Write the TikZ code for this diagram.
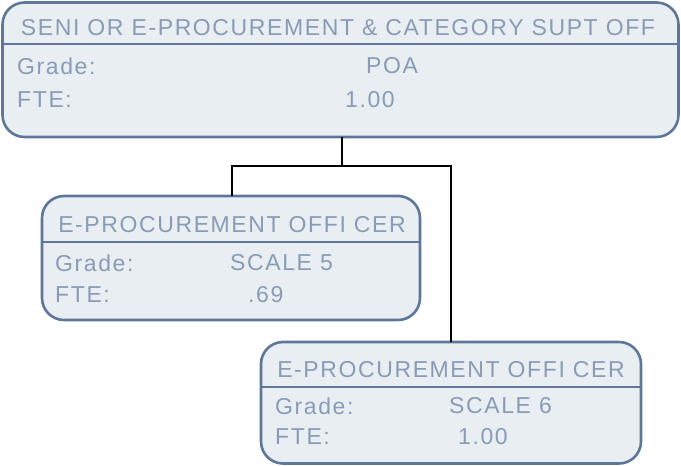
\documentclass[tikz,border=0pt]{standalone}
\usepackage{fontspec}
\setmainfont{Liberation Sans}[LetterSpace=7]
\definecolor{boxfill}{HTML}{E9EEF2}
\definecolor{boxline}{HTML}{5D7699}
\definecolor{boxtext}{HTML}{8A9BB5}
\begin{document}
\begin{tikzpicture}[x=1pt,y=-1pt,
  card/.style={draw=boxline, fill=boxfill, line width=2.6pt, rounded corners=22pt},
  divider/.style={draw=boxline, line width=2.6pt},
  ttl/.style={text=boxtext, font=\fontsize{23}{26}\selectfont, inner sep=0pt, anchor=center},
  lbl/.style={text=boxtext, font=\fontsize{23}{26}\selectfont, inner sep=0pt, anchor=west},
  link/.style={draw=black, line width=2.4pt}]
\useasboundingbox (0,0) rectangle (681,466);
% top box
\draw[card] (2.5,2.5) rectangle (678.5,137);
\draw[divider] (2.5,44) -- (678.5,44);
\node[ttl] (t1) at (338,28) {SENI OR E-PROCUREMENT \& CATEGORY SUPT OFF};
\node[lbl] (g1) at (17,66) {Grade:};
\node[lbl] (gv1) at (366,66) {POA};
\node[lbl] (f1) at (17,100) {FTE:};
\node[lbl] (fv1) at (345,100) {1.00};
\coordinate (top) at (342,137);
% box 2
\draw[card] (42,196) rectangle (420,320);
\draw[divider] (42,242) -- (420,242);
\node[ttl] (t2) at (232,225) {E-PROCUREMENT OFFI CER};
\node[lbl] (g2) at (55,263) {Grade:};
\node[lbl] (gv2) at (230,263) {SCALE 5};
\node[lbl] (f2) at (55,295) {FTE:};
\node[lbl] (fv2) at (248,295) {.69};
\coordinate (b2) at (232,196);
% box 3
\draw[card] (261,342) rectangle (641,463.5);
\draw[divider] (261,387) -- (641,387);
\node[ttl] (t3) at (451,370) {E-PROCUREMENT OFFI CER};
\node[lbl] (g3) at (275,406) {Grade:};
\node[lbl] (gv3) at (449,406) {SCALE 6};
\node[lbl] (f3) at (275,437) {FTE:};
\node[lbl] (fv3) at (458,437) {1.00};
\coordinate (b3) at (451,342);
% connectors
\coordinate (mid) at (342,166);
\draw[link] (top) -- (mid);
\draw[link] (230.8,166) -- (452.2,166);
\draw[link] (232,165) -- (b2);
\draw[link] (451,165) -- (b3);
\end{tikzpicture}
\end{document}
